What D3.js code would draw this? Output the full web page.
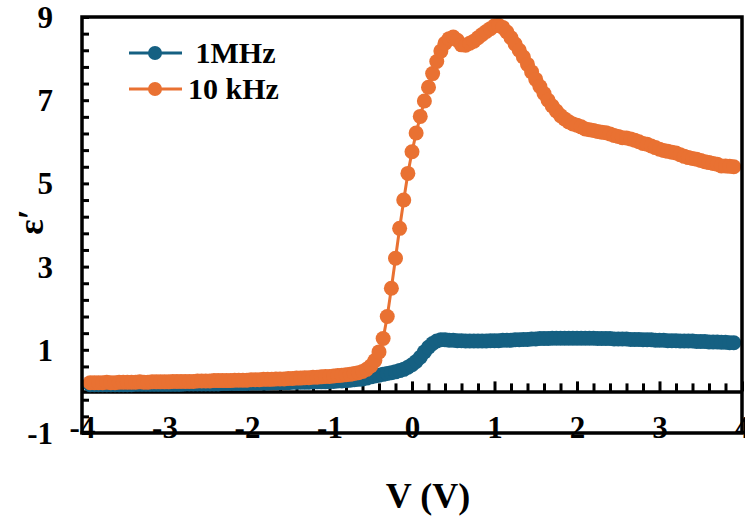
<!DOCTYPE html>
<html>
<head>
<meta charset="utf-8">
<script src="https://cdn.jsdelivr.net/npm/d3@7"></script>
<style>
  html, body { margin: 0; padding: 0; background: #fff; }
  text { font-family: "Liberation Serif", "Times New Roman", serif; font-weight: bold; fill: #000; }
</style>
</head>
<body>
<svg id="chart" width="745" height="522"></svg>
<script>
const voltage = [
  -3.90, -3.85, -3.80, -3.75, -3.70, -3.65, -3.60, -3.55, -3.50, -3.45,
  -3.40, -3.35, -3.30, -3.25, -3.20, -3.15, -3.10, -3.05, -3.00, -2.95,
  -2.90, -2.85, -2.80, -2.75, -2.70, -2.65, -2.60, -2.55, -2.50, -2.45,
  -2.40, -2.35, -2.30, -2.25, -2.20, -2.15, -2.10, -2.05, -2.00, -1.95,
  -1.90, -1.85, -1.80, -1.75, -1.70, -1.65, -1.60, -1.55, -1.50, -1.45,
  -1.40, -1.35, -1.30, -1.25, -1.20, -1.15, -1.10, -1.05, -1.00, -0.95,
  -0.90, -0.85, -0.80, -0.75, -0.70, -0.65, -0.60, -0.55, -0.50, -0.45,
  -0.40, -0.35, -0.30, -0.25, -0.20, -0.15, -0.10, -0.05, 0.00, 0.05,
  0.10, 0.15, 0.20, 0.25, 0.30, 0.35, 0.40, 0.45, 0.50, 0.55,
  0.60, 0.65, 0.70, 0.75, 0.80, 0.85, 0.90, 0.95, 1.00, 1.05,
  1.10, 1.15, 1.20, 1.25, 1.30, 1.35, 1.40, 1.45, 1.50, 1.55,
  1.60, 1.65, 1.70, 1.75, 1.80, 1.85, 1.90, 1.95, 2.00, 2.05,
  2.10, 2.15, 2.20, 2.25, 2.30, 2.35, 2.40, 2.45, 2.50, 2.55,
  2.60, 2.65, 2.70, 2.75, 2.80, 2.85, 2.90, 2.95, 3.00, 3.05,
  3.10, 3.15, 3.20, 3.25, 3.30, 3.35, 3.40, 3.45, 3.50, 3.55,
  3.60, 3.65, 3.70, 3.75, 3.80, 3.85, 3.90
];

const eps1MHz = [
  0.16, 0.16, 0.16, 0.16, 0.16, 0.16, 0.16, 0.16, 0.16, 0.16,
  0.16, 0.17, 0.17, 0.17, 0.17, 0.17, 0.17, 0.17, 0.17, 0.17,
  0.17, 0.17, 0.17, 0.18, 0.18, 0.18, 0.18, 0.18, 0.18, 0.18,
  0.18, 0.18, 0.19, 0.19, 0.19, 0.19, 0.19, 0.19, 0.19, 0.20,
  0.20, 0.20, 0.20, 0.20, 0.21, 0.21, 0.21, 0.21, 0.21, 0.22,
  0.22, 0.22, 0.22, 0.22, 0.23, 0.23, 0.23, 0.23, 0.24, 0.24,
  0.25, 0.25, 0.26, 0.27, 0.28, 0.29, 0.30, 0.32, 0.35, 0.37,
  0.39, 0.41, 0.43, 0.45, 0.47, 0.50, 0.53, 0.58, 0.64, 0.72,
  0.82, 0.95, 1.06, 1.15, 1.21, 1.24, 1.24, 1.23, 1.23, 1.22,
  1.22, 1.21, 1.21, 1.21, 1.21, 1.21, 1.21, 1.22, 1.22, 1.22,
  1.23, 1.23, 1.23, 1.24, 1.24, 1.25, 1.25, 1.26, 1.26, 1.27,
  1.27, 1.27, 1.28, 1.28, 1.28, 1.28, 1.28, 1.28, 1.28, 1.28,
  1.28, 1.28, 1.28, 1.27, 1.27, 1.27, 1.27, 1.26, 1.26, 1.26,
  1.26, 1.25, 1.25, 1.25, 1.24, 1.24, 1.24, 1.23, 1.23, 1.23,
  1.22, 1.22, 1.22, 1.21, 1.21, 1.21, 1.21, 1.20, 1.20, 1.20,
  1.19, 1.19, 1.19, 1.18, 1.18, 1.17, 1.17
];

const eps10kHz = [
  0.21, 0.21, 0.21, 0.21, 0.22, 0.21, 0.21, 0.22, 0.22, 0.22,
  0.22, 0.22, 0.23, 0.22, 0.22, 0.23, 0.23, 0.23, 0.23, 0.23,
  0.24, 0.24, 0.24, 0.24, 0.24, 0.24, 0.25, 0.25, 0.25, 0.25,
  0.26, 0.26, 0.26, 0.26, 0.26, 0.27, 0.27, 0.27, 0.27, 0.28,
  0.28, 0.28, 0.29, 0.29, 0.29, 0.30, 0.30, 0.30, 0.31, 0.31,
  0.32, 0.32, 0.33, 0.33, 0.34, 0.34, 0.35, 0.36, 0.36, 0.37,
  0.38, 0.39, 0.40, 0.41, 0.43, 0.45, 0.48, 0.53, 0.61, 0.74,
  0.95, 1.27, 1.80, 2.48, 3.20, 3.92, 4.60, 5.24, 5.76, 6.21,
  6.61, 6.98, 7.31, 7.64, 7.93, 8.18, 8.37, 8.48, 8.52, 8.44,
  8.33, 8.32, 8.37, 8.42, 8.50, 8.58, 8.65, 8.72, 8.79, 8.80,
  8.75, 8.64, 8.50, 8.35, 8.20, 8.04, 7.86, 7.68, 7.50, 7.33,
  7.16, 7.00, 6.86, 6.74, 6.63, 6.55, 6.48, 6.43, 6.40, 6.36,
  6.31, 6.29, 6.27, 6.25, 6.23, 6.22, 6.19, 6.15, 6.13, 6.10,
  6.09, 6.07, 6.04, 6.00, 5.96, 5.94, 5.90, 5.86, 5.82, 5.79,
  5.77, 5.75, 5.73, 5.69, 5.65, 5.62, 5.60, 5.58, 5.55, 5.52,
  5.50, 5.48, 5.46, 5.42, 5.42, 5.41, 5.40
];

const seriesNames = [" 1MHz", "10 kHz"];
const seriesColors = ["#156082", "#E97132"];
const xTickLabels = [-4, -3, -2, -1, 0, 1, 2, 3, 4];
const yTickLabels = [-1, 1, 3, 5, 7, 9];

const svg = d3.select("#chart");
const plot = { left: 82, right: 742, top: 17, bottom: 433 };

const x = d3.scaleLinear().domain([-4, 4]).range([plot.left, plot.right]);
const y = d3.scaleLinear().domain([-1, 9]).range([plot.bottom, plot.top]);

// plain hyphen for negatives, like the original
const fmt = (d) => String(d);

const addAxes = () => {
  const yMinor = d3.range(-1, 9.001, 0.4);
  const xMinor = d3.range(-4, 4.001, 0.2);

  // inside ticks on the left axis
  svg.append("g")
    .attr("transform", `translate(${plot.left},0)`)
    .call(d3.axisRight(y).tickValues(yMinor).tickSize(7).tickFormat(""))
    .call((g) => g.select(".domain").remove())
    .call((g) => g.selectAll("line").attr("stroke", "#000").attr("stroke-width", 3));

  svg.append("g")
    .attr("transform", `translate(${plot.left},0)`)
    .call(d3.axisLeft(y).tickValues(yTickLabels).tickSize(0).tickPadding(29).tickFormat(fmt))
    .call((g) => g.select(".domain").remove())
    .call((g) => g.selectAll("text").attr("font-size", 31).attr("font-family", null).attr("dy", "0.34em"));

  // horizontal axis crossing at zero, ticks pointing up
  svg.append("g")
    .attr("transform", `translate(0,${y(0)})`)
    .call(d3.axisTop(x).tickValues(xMinor).tickSize(8).tickSizeOuter(0).tickFormat(""))
    .call((g) => g.select(".domain").attr("stroke", "#000").attr("stroke-width", 3.5))
    .call((g) => g.selectAll(".tick line").attr("stroke", "#000").attr("stroke-width", 3)
      .attr("y2", (d) => (Math.abs(d - Math.round(d)) < 1e-6 ? -10 : -8)));

  svg.append("g")
    .attr("transform", `translate(0,${plot.bottom})`)
    .call(d3.axisBottom(x).tickValues(xTickLabels).tickSize(0).tickFormat(fmt))
    .call((g) => g.select(".domain").remove())
    .call((g) => g.selectAll("text").attr("font-size", 31).attr("font-family", null)
      .attr("y", -6).attr("dy", "0.34em"));
};

const addSeries = (values, color) => {
  const pts = voltage.map((v, i) => [v, values[i]]);
  const g = svg.append("g");

  g.append("path")
    .datum(pts)
    .attr("fill", "none")
    .attr("stroke", color)
    .attr("stroke-width", 3)
    .attr("d", d3.line().x((d) => x(d[0])).y((d) => y(d[1])));

  g.selectAll("circle")
    .data(pts)
    .join("circle")
    .attr("cx", (d) => x(d[0]))
    .attr("cy", (d) => y(d[1]))
    .attr("r", 7.5)
    .attr("fill", color);
};

const addLegend = () => {
  seriesNames.forEach((name, i) => {
    const ly = 53 + 36 * i;
    const g = svg.append("g");
    g.append("line")
      .attr("x1", 129).attr("x2", 182)
      .attr("y1", ly).attr("y2", ly)
      .attr("stroke", seriesColors[i])
      .attr("stroke-width", 3);
    g.append("circle")
      .attr("cx", 155).attr("cy", ly).attr("r", 7)
      .attr("fill", seriesColors[i]);
    g.append("text")
      .attr("x", 188).attr("y", ly + 10)
      .attr("font-size", 30)
      .style("white-space", "pre")
      .text(name);
  });
};

addAxes();
addSeries(eps1MHz, seriesColors[0]);
addSeries(eps10kHz, seriesColors[1]);
addLegend();

// plot frame
svg.append("rect")
  .attr("x", plot.left).attr("y", plot.top)
  .attr("width", plot.right - plot.left)
  .attr("height", plot.bottom - plot.top)
  .attr("fill", "none")
  .attr("stroke", "#000")
  .attr("stroke-width", 3.5);

svg.append("text")
  .attr("x", 428).attr("y", 508)
  .attr("text-anchor", "middle")
  .attr("font-size", 36)
  .text("V (V)");

svg.append("text")
  .attr("transform", "translate(43,222) rotate(-90)")
  .attr("text-anchor", "middle")
  .attr("font-size", 36)
  .text("ε′");
</script>
</body>
</html>
